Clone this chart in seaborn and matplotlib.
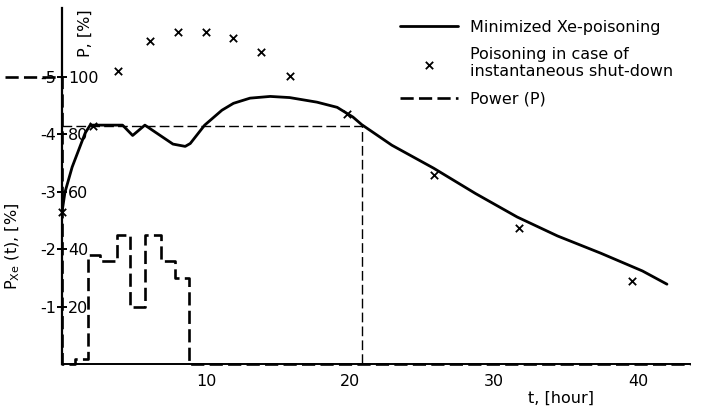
import matplotlib
matplotlib.use("Agg")
import matplotlib.pyplot as plt
import seaborn as sns

# ---- data ----
# minimized Xe-poisoning curve (Xe scale, %)
t_xe = [0, 0.2, 0.7, 1.6, 1.95, 4.2, 4.9, 5.75, 7.7, 8.55, 8.9, 9.9, 11.1, 11.9,
        13.05, 14.45, 15.8, 17.7, 19.1, 20.2, 20.8, 22.9, 25.8, 28.7, 31.6, 34.4,
        37.4, 40.3, 42.0]
xe_min = [-2.65, -2.99, -3.43, -4.02, -4.16, -4.16, -3.98, -4.16, -3.83, -3.79,
          -3.84, -4.16, -4.42, -4.54, -4.63, -4.66, -4.64, -4.56, -4.47, -4.30,
          -4.17, -3.81, -3.41, -2.97, -2.56, -2.23, -1.93, -1.62, -1.39]

# poisoning in case of instantaneous shut-down (Xe scale, %)
t_sd = [0, 2.15, 3.9, 6.1, 8.05, 10.0, 11.9, 13.8, 15.8, 19.8, 25.8, 31.7, 39.6]
xe_sd = [-2.65, -4.15, -5.10, -5.62, -5.79, -5.78, -5.67, -5.43, -5.01, -4.35,
         -3.30, -2.37, -1.45]

# power program (P, %), step function
t_pow = [-3.95, 0, 0.9, 1.8, 2.65, 3.8, 4.7, 5.75, 6.9, 7.85, 8.8, 43.6]
p_pow = [100, 0, 1.7, 38, 36, 45, 20, 45, 36, 30, 0, 0]

# xenon limit reference
xe_limit = -4.15
t_limit = 20.8

p_ticks = [20, 40, 60, 80, 100]
xe_ticks = [-1, -2, -3, -4, -5]
x_ticks = [10, 20, 30, 40]

labels = ["Minimized Xe-poisoning",
          "Poisoning in case of\ninstantaneous shut-down",
          "Power (P)"]

# ---- style ----
sns.set_style("white")
plt.rcParams["font.family"] = ["DejaVu Sans"]
plt.rcParams["mathtext.default"] = "regular"
plt.rcParams["axes.unicode_minus"] = False
plt.rcParams["text.color"] = "k"
plt.rcParams["axes.labelcolor"] = "k"
plt.rcParams["xtick.color"] = "k"
plt.rcParams["ytick.color"] = "k"
FS = 11.5

fig = plt.figure(figsize=(7.05, 4.12), dpi=100)
ax = fig.add_axes([0, 48 / 412, 690 / 705, 356 / 412])
ax2 = ax.twinx()

xmin, xmax = -4.31, 43.6
pmax = 124
ax.set_xlim(xmin, xmax)
ax.set_ylim(0, pmax)
ax2.set_ylim(0, -pmax / 20)

# power (dashed step)
sns.lineplot(x=t_pow, y=p_pow, ax=ax, color="k", lw=1.9, drawstyle="steps-post",
             linestyle=(0, (5, 2)), clip_on=False, sort=False, estimator=None)
# xenon limit
ax2.plot([0, t_limit, t_limit], [xe_limit, xe_limit, 0], color="k", lw=1.0,
         linestyle=(0, (7, 3)))
# minimized Xe poisoning
sns.lineplot(x=t_xe, y=xe_min, ax=ax2, color="k", lw=2.0, sort=False,
             estimator=None)
# shut-down poisoning crosses
sns.scatterplot(x=t_sd, y=xe_sd, ax=ax2, marker="x", color="k", s=28,
                linewidth=1.3, legend=False, clip_on=False)

# ---- axes styling ----
for a in (ax, ax2):
    for s in ("top", "left", "right", "bottom"):
        a.spines[s].set_visible(False)
ax.spines["right"].set_visible(True)
ax.spines["right"].set_position(("data", 0))
ax.spines["right"].set_linewidth(1.6)
ax.spines["right"].set_color("k")
ax.spines["bottom"].set_visible(True)
ax.spines["bottom"].set_bounds(0, xmax)
ax.spines["bottom"].set_linewidth(1.4)
ax.spines["bottom"].set_color("k")

ax.yaxis.tick_right()
ax.set_yticks(p_ticks)
ax.set_yticklabels([str(v) for v in p_ticks])
ax.tick_params(axis="y", direction="inout", length=7, width=1.2, pad=1,
               labelsize=FS, colors="k")

ax2.yaxis.tick_left()
ax2.spines["left"].set_position(("data", 0))
ax2.set_yticks(xe_ticks)
ax2.set_yticklabels([str(v) for v in xe_ticks])
ax2.tick_params(axis="y", direction="inout", length=7, width=1.2, pad=1,
                labelsize=FS, colors="k")

ax.set_xticks(x_ticks)
ax.set_xticklabels([str(v) for v in x_ticks])
ax.tick_params(axis="x", direction="inout", length=5, width=1.0, pad=5,
               labelsize=FS, colors="k")

ax.set_xlabel("t, [hour]", fontsize=FS)
ax.xaxis.set_label_coords(0.813, -0.075)
ax.set_ylabel("P, [%]", fontsize=FS, rotation=90)
ax.yaxis.set_label_position("right")
ax.yaxis.set_label_coords(0.113, 0.93)
ax2.set_ylabel("P$_{Xe}$ (t), [%]", fontsize=FS)
ax2.yaxis.set_label_position("left")
ax2.yaxis.set_label_coords(0.032, 0.33)

handles = [ax2.lines[-1], ax2.collections[0], ax.lines[0]]
fig.legend(handles, labels, loc="upper left",
           bbox_to_anchor=(400 / 705, 1 - 20 / 412), frameon=False, fontsize=FS,
           handlelength=3.6, handletextpad=0.8, labelspacing=0.75, borderpad=0,
           borderaxespad=0)

fig.savefig("out.png", dpi=100)
